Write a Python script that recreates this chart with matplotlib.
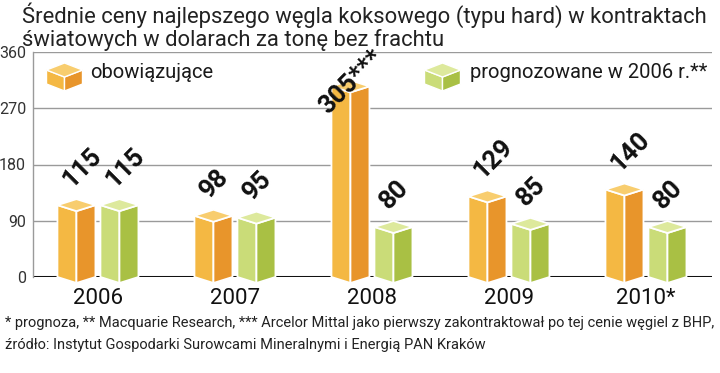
import matplotlib
matplotlib.use('Agg')
import matplotlib.pyplot as plt
from matplotlib.patches import Polygon
from matplotlib.transforms import IdentityTransform

years = ['2006', '2007', '2008', '2009', '2010*']
actual = [115, 98, 305, 129, 140]
forecast = [115, 95, 80, 85, 80]
actual_labels = ['115', '98', '305***', '129', '140']
forecast_labels = ['115', '95', '80', '85', '80']
yticks = [0, 90, 180, 270, 360]
series_names = ['obowiązujące', 'prognozowane w 2006 r.**']
title = ('Średnie ceny najlepszego węgla koksowego (typu hard) w kontraktach\n'
         'światowych w dolarach za tonę bez frachtu')
note1 = ('* prognoza, ** Macquarie Research, *** Arcelor Mittal jako pierwszy '
         'zakontraktował po tej cenie węgiel z BHP,')
note2 = 'źródło: Instytut Gospodarki Surowcami Mineralnymi i Energią PAN Kraków'

ORANGE = ('#F4B843', '#E8952B', '#F8CD6E')
GREEN = ('#CADC78', '#A9C044', '#DDE99C')
MAIN = 'Roboto'

W, H = 720, 373
fig = plt.figure(figsize=(W / 100, H / 100), dpi=100)
ax = fig.add_axes([33 / W, (H - 277) / H, (712 - 33) / W, (277 - 52) / H])
ax.set_xlim(-0.474, 4.482)
ax.set_ylim(0, 360)

px_x = 137.0          # pixels per x unit
px_y = 225.0 / 360.0  # pixels per y unit
hw = 19 / px_x
off = 21.5 / px_x
d = 6 / px_y


def box(axis, c, base, top, w, dd, cols, transform, lw=1.3, z=3):
    left = [(c - w, base), (c - w, top), (c, top - dd), (c, base - dd)]
    right = [(c, base - dd), (c, top - dd), (c + w, top), (c + w, base)]
    cap = [(c - w, top), (c, top + dd), (c + w, top), (c, top - dd)]
    for pts, col in ((left, cols[0]), (right, cols[1]), (cap, cols[2])):
        axis.add_patch(Polygon(pts, closed=True, facecolor=col, edgecolor='white',
                               lw=lw, transform=transform, clip_on=False, zorder=z))


# grid and axes
for t in yticks[1:]:
    ax.axhline(t, color='#9a9a9a', lw=1.0, zorder=1)
ax.axhline(0, color='#111111', lw=2.2, zorder=2)
for s in ['top', 'right', 'bottom']:
    ax.spines[s].set_visible(False)
ax.spines['left'].set_color('#9a9a9a')
ax.spines['left'].set_linewidth(1.0)

for i in range(len(years)):
    box(ax, i - off, 0, actual[i], hw, d, ORANGE, ax.transData)
    box(ax, i + off, 0, forecast[i], hw, d, GREEN, ax.transData)
    for val, lab, c in ((actual[i], actual_labels[i], i - off),
                        (forecast[i], forecast_labels[i], i + off)):
        if val + d + 75 / px_y > 360:
            dx, dy = -22, -35
        else:
            dx, dy = -5, 11
        ax.annotate(lab, (c, val + d), xytext=(dx * 0.72, dy * 0.72),
                    textcoords='offset points', ha='left', va='baseline',
                    rotation=45, rotation_mode='anchor', fontsize=18.5,
                    fontweight='bold', family=MAIN, color='#111111', zorder=5,
                    annotation_clip=False)

ax.set_yticks(yticks)
ax.set_yticklabels([str(t) for t in yticks], fontsize=11.5, color='#333333', family=MAIN)
ax.tick_params(axis='y', length=0, pad=5)
ax.set_xticks(range(len(years)))
ax.set_xticklabels(years, fontsize=16, color='#111111', family=MAIN)
ax.tick_params(axis='x', length=0, pad=8)

# legend
disp = IdentityTransform()
box(ax, 64.5, H - 84, H - 70, 18, 7, ORANGE, disp, lw=1.0)
box(ax, 442.5, H - 84, H - 70, 18, 7, GREEN, disp, lw=1.0)
fig.text(90 / W, (H - 73) / H, series_names[0], fontsize=14.5, family=MAIN,
         color='#1a1a1a', va='center', ha='left')
fig.text(470 / W, (H - 73) / H, series_names[1], fontsize=14.5, family=MAIN,
         color='#1a1a1a', va='center', ha='left')

fig.text(22 / W, (H - 2) / H, title, fontsize=15.8, family=MAIN, color='#222222',
         va='top', ha='left', linespacing=1.1)

t1 = fig.text(5 / W, (H - 323) / H, note1, fontsize=12, family='Roboto',
              fontstretch='condensed', color='#222222', va='center', ha='left')
t2 = fig.text(5 / W, (H - 345) / H, note2, fontsize=12, family='Roboto',
              fontstretch='condensed', color='#222222', va='center', ha='left')
r = fig.canvas.get_renderer()
wpx = t1.get_window_extent(r).width
fs = 12 * 708.0 / wpx
t1.set_fontsize(fs)
t2.set_fontsize(fs)

fig.savefig('out.png', dpi=100, facecolor='white')
